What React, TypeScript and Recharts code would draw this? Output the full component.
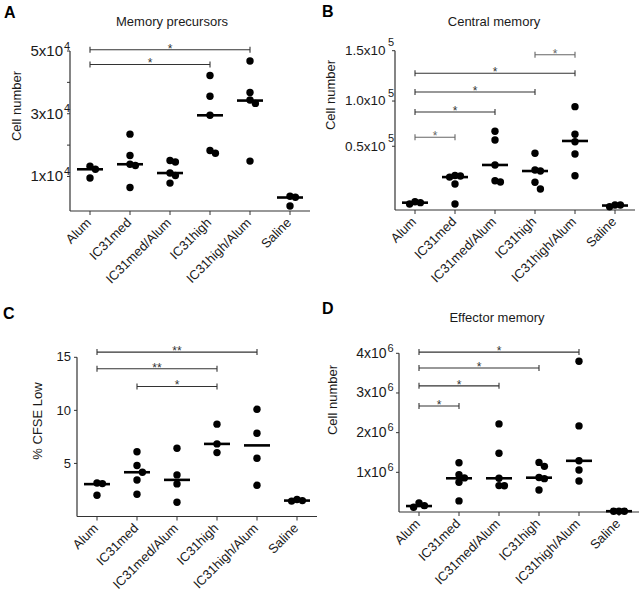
import React from 'react';
import { ScatterChart, Scatter, XAxis, YAxis, ReferenceLine } from 'recharts';

const groups = ['Alum', 'IC31med', 'IC31med/Alum', 'IC31high', 'IC31high/Alum', 'Saline'];

// A - memory precursors (cell number)
const precursorValues = [
  [13300, 12300, 9500],
  [23500, 16700, 13900, 13500, 6500],
  [15100, 14600, 11100, 10300, 7900],
  [42200, 35600, 29500, 18300, 17400],
  [46800, 36800, 34400, 33300, 14900],
  [3700, 3400, 600],
];
const precursorMedians = [12300, 13900, 11100, 29500, 34200, 3300];
const precursorTicks = [10000, 20000, 30000, 40000, 50000];
const precursorTickLabels = ['1x10', '', '3x10', '', '5x10'];
const precursorSig = [
  { from: 0, to: 4, y: 50400, label: '*' },
  { from: 0, to: 3, y: 45700, label: '*' },
];

// B - central memory (cell number)
const centralValues = [
  [7800, 6900, 5600],
  [32500, 32000, 31000, 24500, 5600],
  [74100, 65900, 42400, 27600, 26400],
  [53400, 37700, 36700, 26100, 19800],
  [97300, 71300, 64300, 52700, 32300],
  [4700, 4700, 3100],
];
const centralMedians = [6900, 31000, 42400, 36700, 65000, 4200];
const centralTicks = [60000, 102600, 150000];
const centralTickLabels = ['0.5x10', '1.0x10', '1.5x10'];
const centralSig = [
  { from: 3, to: 4, y: 146200, label: '*', faint: true },
  { from: 0, to: 4, y: 128700, label: '*' },
  { from: 0, to: 3, y: 111100, label: '*' },
  { from: 0, to: 2, y: 92300, label: '*' },
  { from: 0, to: 1, y: 68500, label: '*', faint: true },
];

// C - % CFSE low
const cfseValues = [
  [3.15, 3.1, 2.0],
  [6.1, 4.8, 4.17, 3.44, 2.09],
  [6.43, 3.92, 3.07, 1.34],
  [8.7, 6.84, 6.02],
  [10.1, 7.85, 5.49, 2.94],
  [1.6, 1.5, 1.45],
];
const cfseMedians = [3.05, 4.17, 3.45, 6.84, 6.7, 1.5];
const cfseTicks = [5, 10, 15];
const cfseTickLabels = ['5', '10', '15'];
const cfseSig = [
  { from: 0, to: 4, y: 15.49, label: '**' },
  { from: 0, to: 3, y: 13.92, label: '**' },
  { from: 1, to: 3, y: 12.25, label: '*' },
];

// D - effector memory (cell number)
const effectorValues = [
  [230000, 160000, 120000],
  [1240000, 940000, 860000, 750000, 280000],
  [2220000, 1480000, 850000, 665000, 660000],
  [1250000, 1150000, 870000, 840000, 555000],
  [3800000, 2170000, 1290000, 1060000, 780000],
  [20000, 20000, 20000],
];
const effectorMedians = [150000, 850000, 850000, 865000, 1290000, 20000];
const effectorTicks = [1000000, 2000000, 3000000, 4000000];
const effectorTickLabels = ['1x10', '2x10', '3x10', '4x10'];
const effectorSig = [
  { from: 0, to: 4, y: 4030000, label: '*' },
  { from: 0, to: 3, y: 3630000, label: '*' },
  { from: 0, to: 2, y: 3180000, label: '*' },
  { from: 0, to: 1, y: 2670000, label: '*' },
];

const FONT = '"Liberation Sans", Arial, Helvetica, sans-serif';
const INK = '#1a1a1a';

type Sig = { from: number; to: number; y: number; label: string; faint?: boolean };

// simple column scatter: push points sideways when they would overlap
function swarm(vals: number[], center: number, pxPerUnit: number) {
  const slots = [0, 1, -1, 2, -2];
  const placed: { y: number; s: number }[] = [];
  return [...vals]
    .sort((a, b) => b - a)
    .map((v) => {
      const s =
        slots.find((k) => placed.every((p) => p.s !== k || Math.abs(p.y - v) * pxPerUnit >= 7)) ?? 0;
      placed.push({ y: v, s });
      return { x: center + s * 0.135, y: v };
    });
}

function Panel(props: {
  left: number;
  top: number;
  width: number;
  height: number;
  plot: { l: number; t: number; r: number; b: number };
  values: number[][];
  medians: number[];
  domain: [number, number];
  ticks: number[];
  tickLabels: string[];
  exp?: string;
  sig: Sig[];
  tickFont: number;
  labelGap: number;
  expDx: number;
  expDy: number;
}) {
  const { plot, domain, ticks, tickLabels, exp } = props;
  const yw = 60;
  const xh = 70;
  const margin = {
    top: plot.t,
    left: plot.l - yw,
    right: props.width - plot.r,
    bottom: props.height - plot.b - xh,
  };
  const pxPerUnit = (plot.b - plot.t) / (domain[1] - domain[0]);
  const dots = props.values.flatMap((vals, i) => swarm(vals, i, pxPerUnit));
  const meds = props.medians.map((m, i) => ({ x: i, y: m }));

  const yTick = (p: any) => {
    const idx = ticks.indexOf(p.payload.value);
    const main = tickLabels[idx] || '';
    if (!main) return <g />;
    const ax = plot.l;
    return (
      <g>
        <text
          x={ax - props.labelGap}
          y={p.y + props.tickFont * 0.32}
          textAnchor="end"
          fontSize={props.tickFont}
          fontFamily={FONT}
          fill={INK}
        >
          {main}
        </text>
        {exp && (
          <text x={ax + props.expDx} y={p.y + props.expDy} fontSize={11} fontFamily={FONT} fill={INK}>
            {exp}
          </text>
        )}
      </g>
    );
  };

  const xTick = (p: any) => {
    const ax = p.x + 2;
    const ay = p.y + 6.5;
    return (
      <text
        x={ax}
        y={ay}
        transform={`rotate(-45 ${ax} ${ay})`}
        textAnchor="end"
        fontSize={13}
        fontFamily={FONT}
        fill={INK}
      >
        {groups[p.payload.value]}
      </text>
    );
  };

  return (
    <div style={{ position: 'absolute', left: props.left, top: props.top }}>
      <ScatterChart width={props.width} height={props.height} margin={margin}>
        <XAxis
          type="number"
          dataKey="x"
          domain={[-0.5, 5.5]}
          ticks={[0, 1, 2, 3, 4, 5]}
          interval={0}
          height={xh}
          tickSize={4}
          tickMargin={2}
          tick={xTick}
          axisLine={{ stroke: '#333', strokeWidth: 1.2 }}
          tickLine={{ stroke: '#333' }}
        />
        <YAxis
          type="number"
          dataKey="y"
          domain={domain}
          ticks={ticks}
          interval={0}
          width={yw}
          tickSize={3}
          tick={yTick}
          axisLine={{ stroke: '#333', strokeWidth: 1.2 }}
          tickLine={{ stroke: '#333' }}
        />
        {props.sig.map((s, i) => (
          <ReferenceLine
            key={i}
            ifOverflow="visible"
            segment={[
              { x: s.from, y: s.y },
              { x: s.to, y: s.y },
            ]}
            shape={(lp: any) => {
              const c = s.faint ? '#666' : '#333';
              return (
                <g>
                  <line x1={lp.x1} y1={lp.y1} x2={lp.x2} y2={lp.y2} stroke={c} strokeWidth={1.1} />
                  <line x1={lp.x1} y1={lp.y1 - 3} x2={lp.x1} y2={lp.y1 + 3} stroke={c} strokeWidth={1.1} />
                  <line x1={lp.x2} y1={lp.y2 - 3} x2={lp.x2} y2={lp.y2 + 3} stroke={c} strokeWidth={1.1} />
                  <text
                    x={(lp.x1 + lp.x2) / 2}
                    y={lp.y1 + 3}
                    textAnchor="middle"
                    fontSize={12}
                    fontFamily={FONT}
                    fill={c}
                  >
                    {s.label}
                  </text>
                </g>
              );
            }}
          />
        ))}
        <Scatter
          data={meds}
          isAnimationActive={false}
          shape={(p: any) => (
            <line x1={p.cx - 13} x2={p.cx + 13} y1={p.cy} y2={p.cy} stroke="#000" strokeWidth={2.6} />
          )}
        />
        <Scatter
          data={dots}
          isAnimationActive={false}
          shape={(p: any) => <circle cx={p.cx} cy={p.cy} r={3.7} fill="#000" />}
        />
      </ScatterChart>
    </div>
  );
}

const textStyle: React.CSSProperties = {
  position: 'absolute',
  fontFamily: FONT,
  color: INK,
  whiteSpace: 'nowrap',
  lineHeight: 1,
};

function Letter({ x, y, t }: { x: number; y: number; t: string }) {
  return <div style={{ ...textStyle, left: x, top: y, fontSize: 16, fontWeight: 700, color: '#000' }}>{t}</div>;
}

function Title({ cx, cy, t }: { cx: number; cy: number; t: string }) {
  return (
    <div style={{ ...textStyle, left: cx, top: cy, fontSize: 13, transform: 'translate(-50%, -50%)' }}>{t}</div>
  );
}

function AxisTitle({ cx, cy, t }: { cx: number; cy: number; t: string }) {
  return (
    <div
      style={{ ...textStyle, left: cx, top: cy, fontSize: 13, transform: 'translate(-50%, -50%) rotate(-90deg)' }}
    >
      {t}
    </div>
  );
}

export default function App() {
  return (
    <div style={{ position: 'absolute', left: 0, top: 0, width: 644, height: 592, background: '#fff', overflow: 'hidden' }}>
      <Panel
        left={0}
        top={0}
        width={322}
        height={296}
        plot={{ l: 70, t: 51, r: 310, b: 211 }}
        values={precursorValues}
        medians={precursorMedians}
        domain={[-1000, 50000]}
        ticks={precursorTicks}
        tickLabels={precursorTickLabels}
        exp="4"
        sig={precursorSig}
        tickFont={15}
        labelGap={7}
        expDx={-6}
        expDy={-1.5}
      />
      <Panel
        left={322}
        top={0}
        width={322}
        height={296}
        plot={{ l: 73, t: 50.7, r: 313, b: 210 }}
        values={centralValues}
        medians={centralMedians}
        domain={[0, 150000]}
        ticks={centralTicks}
        tickLabels={centralTickLabels}
        exp="5"
        sig={centralSig}
        tickFont={13.5}
        labelGap={9.5}
        expDx={-7}
        expDy={-4.5}
      />
      <Panel
        left={0}
        top={300}
        width={322}
        height={292}
        plot={{ l: 77, t: 57.3, r: 317, b: 216.5 }}
        values={cfseValues}
        medians={cfseMedians}
        domain={[0, 15]}
        ticks={cfseTicks}
        tickLabels={cfseTickLabels}
        sig={cfseSig}
        tickFont={13}
        labelGap={6}
        expDx={0}
        expDy={0}
      />
      <Panel
        left={322}
        top={300}
        width={322}
        height={292}
        plot={{ l: 77, t: 53.3, r: 317, b: 212 }}
        values={effectorValues}
        medians={effectorMedians}
        domain={[0, 4000000]}
        ticks={effectorTicks}
        tickLabels={effectorTickLabels}
        exp="6"
        sig={effectorSig}
        tickFont={14}
        labelGap={12.5}
        expDx={-11.5}
        expDy={-1.7}
      />

      <Letter x={4} y={5} t="A" />
      <Letter x={322} y={4} t="B" />
      <Letter x={3} y={306} t="C" />
      <Letter x={322} y={301} t="D" />

      <Title cx={172} cy={21} t="Memory precursors" />
      <Title cx={494} cy={21} t="Central memory" />
      <Title cx={497} cy={317} t="Effector memory" />

      <AxisTitle cx={16} cy={106} t="Cell number" />
      <AxisTitle cx={330} cy={95} t="Cell number" />
      <AxisTitle cx={37} cy={421} t="% CFSE Low" />
      <AxisTitle cx={332} cy={400} t="Cell number" />
    </div>
  );
}
